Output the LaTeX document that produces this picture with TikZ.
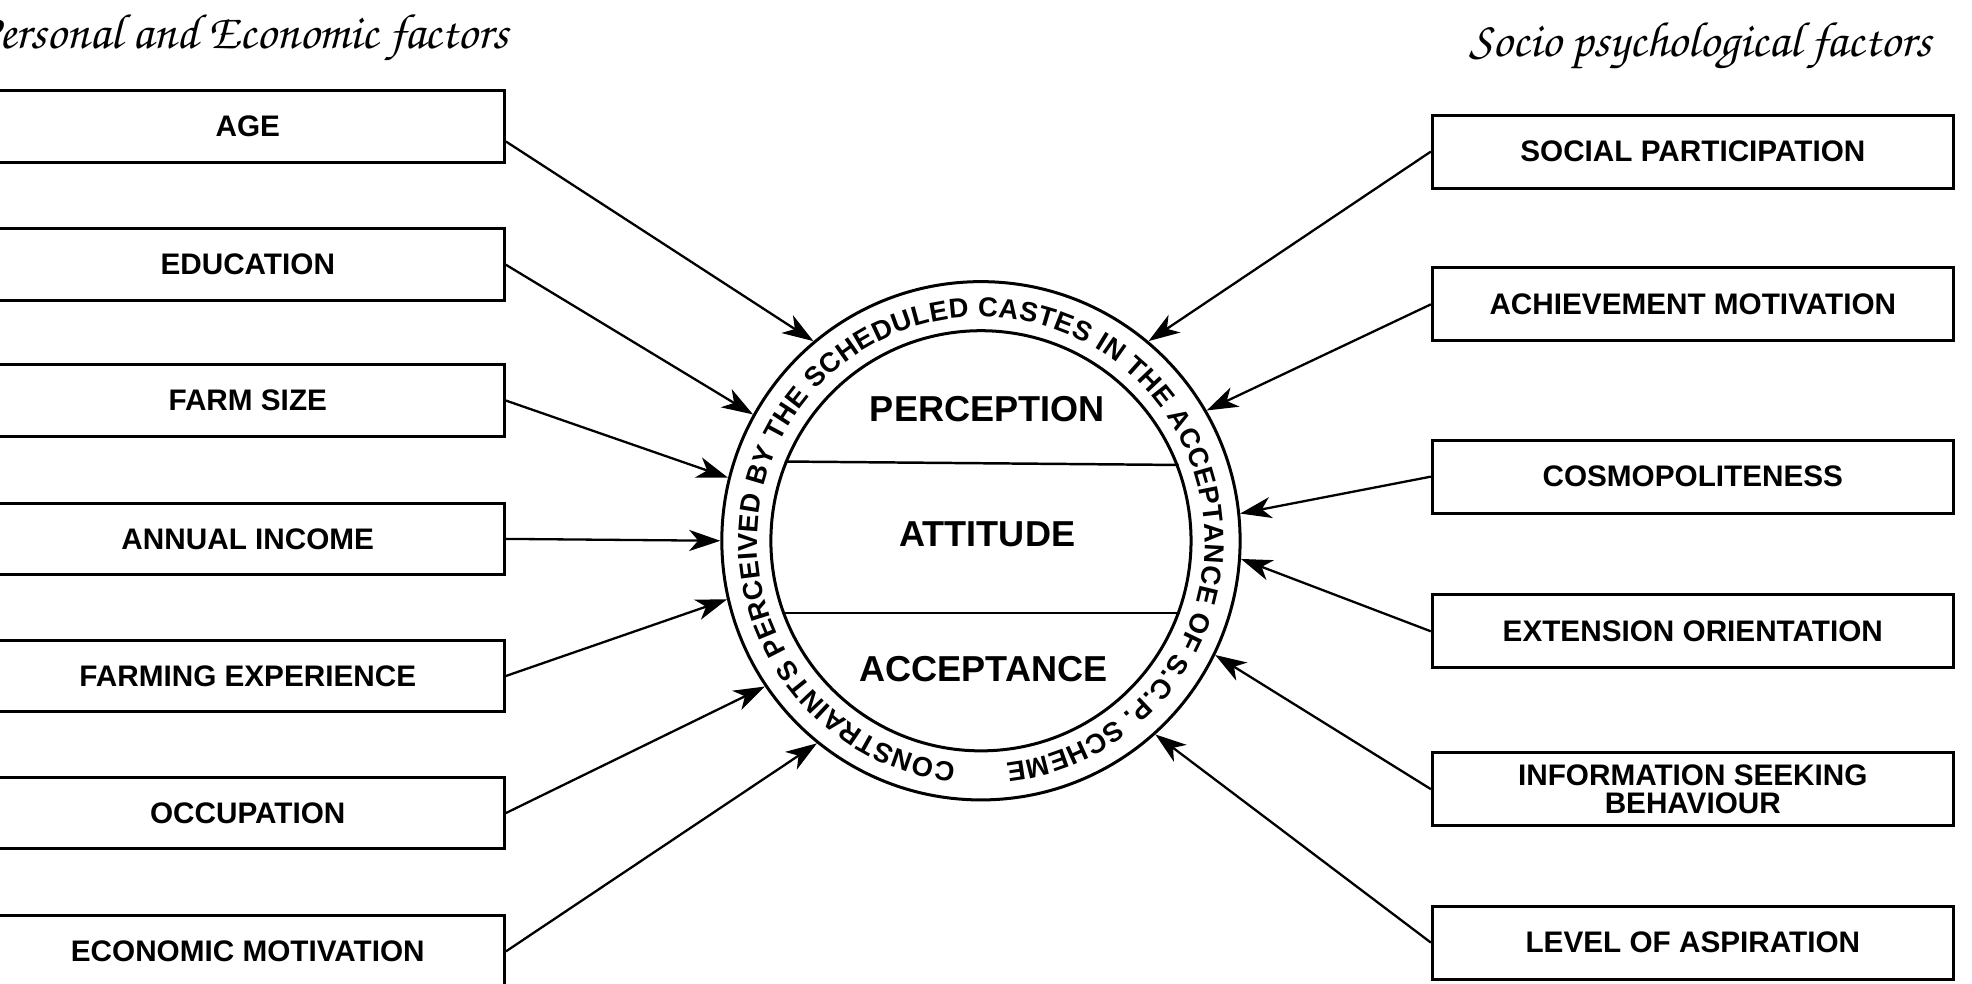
\documentclass[tikz,border=0pt]{standalone}
\usepackage[T1,TU]{fontenc}
\usepackage{fontspec}
\setmainfont{Liberation Sans}
\usepackage{tikz}
\usetikzlibrary{arrows.meta,decorations.text,positioning}

\newcommand{\headfont}{\usefont{T1}{pzc}{mb}{it}\fontsize{28pt}{30pt}\selectfont}
\newcommand{\ringfont}{\bfseries\fontsize{15.5pt}{18pt}\selectfont}

\tikzset{
	factor/.style={draw, line width=1.7pt, inner sep=0pt, align=center,
		font=\bfseries\fontsize{16.8pt}{15.6pt}\selectfont},
	leftfactor/.style={factor, minimum width=10.2cm, minimum height=1.425cm},
	rightfactor/.style={factor, minimum width=10.35cm, minimum height=1.45cm},
	stage/.style={font=\bfseries\fontsize{20.4pt}{22pt}\selectfont},
	influence/.style={line width=1.3pt, -{Stealth[length=6.2mm, width=4.2mm, inset=1.8mm]}}
}

\begin{document}
\begin{tikzpicture}[x=0.025cm, y=0.025cm]
	% frame of the scan
	\useasboundingbox (0, 0) rectangle (1568, 782);
	% headings
	\node[anchor=east] (lhead) at (409, 751) {\headfont Personal and Economic factors};
	\node (rhead) at (1352, 745) {\headfont Socio psychological factors};
	% personal and economic factors
	\node[leftfactor] (age) at (197, 681.5) {AGE};
	\node[leftfactor] (edu) at (197, 571.5) {EDUCATION};
	\node[leftfactor] (farm) at (197, 463.5) {FARM SIZE};
	\node[leftfactor] (income) at (197, 353.5) {ANNUAL INCOME};
	\node[leftfactor] (exper) at (197, 244.5) {FARMING EXPERIENCE};
	\node[leftfactor] (occup) at (197, 135.5) {OCCUPATION};
	\node[leftfactor] (ecomot) at (197, 25.5) {ECONOMIC MOTIVATION};
	% socio psychological factors
	\node[rightfactor] (social) at (1346, 661.5) {SOCIAL PARTICIPATION};
	\node[rightfactor] (achieve) at (1346, 540) {ACHIEVEMENT MOTIVATION};
	\node[rightfactor] (cosmo) at (1346, 403) {COSMOPOLITENESS};
	\node[rightfactor] (ext) at (1346, 280) {EXTENSION ORIENTATION};
	\node[rightfactor] (info) at (1346, 154.5) {INFORMATION SEEKING\\BEHAVIOUR};
	\node[rightfactor] (aspir) at (1346, 32.5) {LEVEL OF ASPIRATION};
	% central circle
	\node[draw, circle, line width=1.7pt, inner sep=0pt, minimum size=10.3cm] (ring) at (780, 352) {};
	\node[draw, circle, line width=1.7pt, inner sep=0pt, minimum size=8.35cm] (core) at (780, 352) {};
	\draw[line width=1.4pt] (core.158.9) -- (core.21.1);
	\draw[line width=1.4pt] (core.200.7) -- (core.-20.7);
	\node[stage] (perc) at (785, 457) {PERCEPTION};
	\node[stage] (att) at (785, 357) {ATTITUDE};
	\node[stage] (acc) at (782, 250) {ACCEPTANCE};
	% text round the ring
	\path[decorate, decoration={text along path, text align=fit to path,
		text={|\ringfont|CONSTRAINTS PERCEIVED BY THE SCHEDULED CASTES IN THE ACCEPTANCE OF S.C.P. SCHEME}}]
		(ring.center) ++(263.6:178) arc[start angle=263.6, end angle=-83.6, radius=178];
	% arrows into the ring
	\draw[influence] ([yshift=-0.3cm]age.east) -- (ring.130.5);
	\draw[influence] (edu.east) -- (ring.151.4);
	\draw[influence] (farm.east) -- (ring.166.8);
	\draw[influence] (income.east) -- (ring.180);
	\draw[influence] (exper.east) -- (ring.193);
	\draw[influence] (occup.east) -- (ring.214.9);
	\draw[influence] (ecomot.east) -- (ring.231.6);
	\draw[influence] (social.west) -- (ring.50.5);
	\draw[influence] (achieve.west) -- (ring.30.6);
	\draw[influence] (cosmo.west) -- (ring.6);
	\draw[influence] (ext.west) -- (ring.-4);
	\draw[influence] (info.west) -- (ring.-26.4);
	\draw[influence] (aspir.west) -- (ring.-48.6);
\end{tikzpicture}
\end{document}
